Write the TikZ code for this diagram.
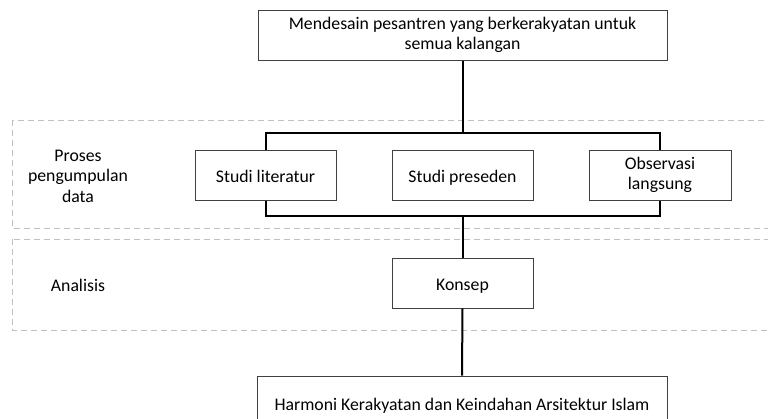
\documentclass[tikz,border=0pt]{standalone}
\usepackage{fontspec}
\setmainfont{Carlito}
\newcommand\boxstrut{\rule[-2.5pt]{0pt}{15.5pt}}
\begin{document}
\begin{tikzpicture}[x=0.75pt,y=-0.75pt,
  txt/.style={font=\fontsize{13.3}{15.3}\selectfont, align=center},
  box/.style={txt, draw=black!75, line width=0.75pt, fill=white, inner sep=0pt,
    execute at begin node=\boxstrut, execute at end node=\boxstrut},
  sbox/.style={box, minimum width=105.75pt, minimum height=37.5pt},
  conn/.style={line width=1.5pt, black},
  zone/.style={draw=black!25, line width=0.75pt, dash pattern=on 4.5pt off 3pt},
  lbl/.style={txt, inner sep=0pt}]
\useasboundingbox (0,0) rectangle (768,418);
\clip (0,0) rectangle (768,418);
% zones
\draw[zone] (12,120) rectangle (790,228);
\draw[zone] (12,239) rectangle (790,330);
\node[lbl] (l1) at (78,176) {Proses\\pengumpulan\\data};
\node[lbl] (l2) at (78,285) {Analisis};
% junction points
\coordinate (bt) at (462.5,133);
\coordinate (bb) at (462.5,216);
% nodes
\node[box, minimum width=306.75pt, minimum height=37.5pt] (top) at (462.5,35)
  {Mendesain pesantren yang berkerakyatan untuk\\semua kalangan};
\node[sbox] (lit) at (265.5,175) {Studi literatur};
\node[sbox] (pre) at (462.5,175) {Studi preseden};
\node[sbox, minimum width=106.5pt] (obs) at (660,175) {Observasi\\langsung};
\node[sbox] (kon) at (462.5,283) {Konsep};
\node[box, minimum width=307.5pt, minimum height=40.5pt] (harm) at (462,403)
  {Harmoni Kerakyatan dan Keindahan Arsitektur Islam};
% connectors
\draw[conn] (top.south) -- (bt);
\draw[conn] (lit.north) |- (obs.north |- bt) -- (obs.north);
\draw[conn] (lit.south) |- (obs.south |- bb) -- (obs.south);
\draw[conn] (bb) -- (kon.north);
\draw[conn] (kon.south) -- (harm.north);
\end{tikzpicture}
\end{document}
